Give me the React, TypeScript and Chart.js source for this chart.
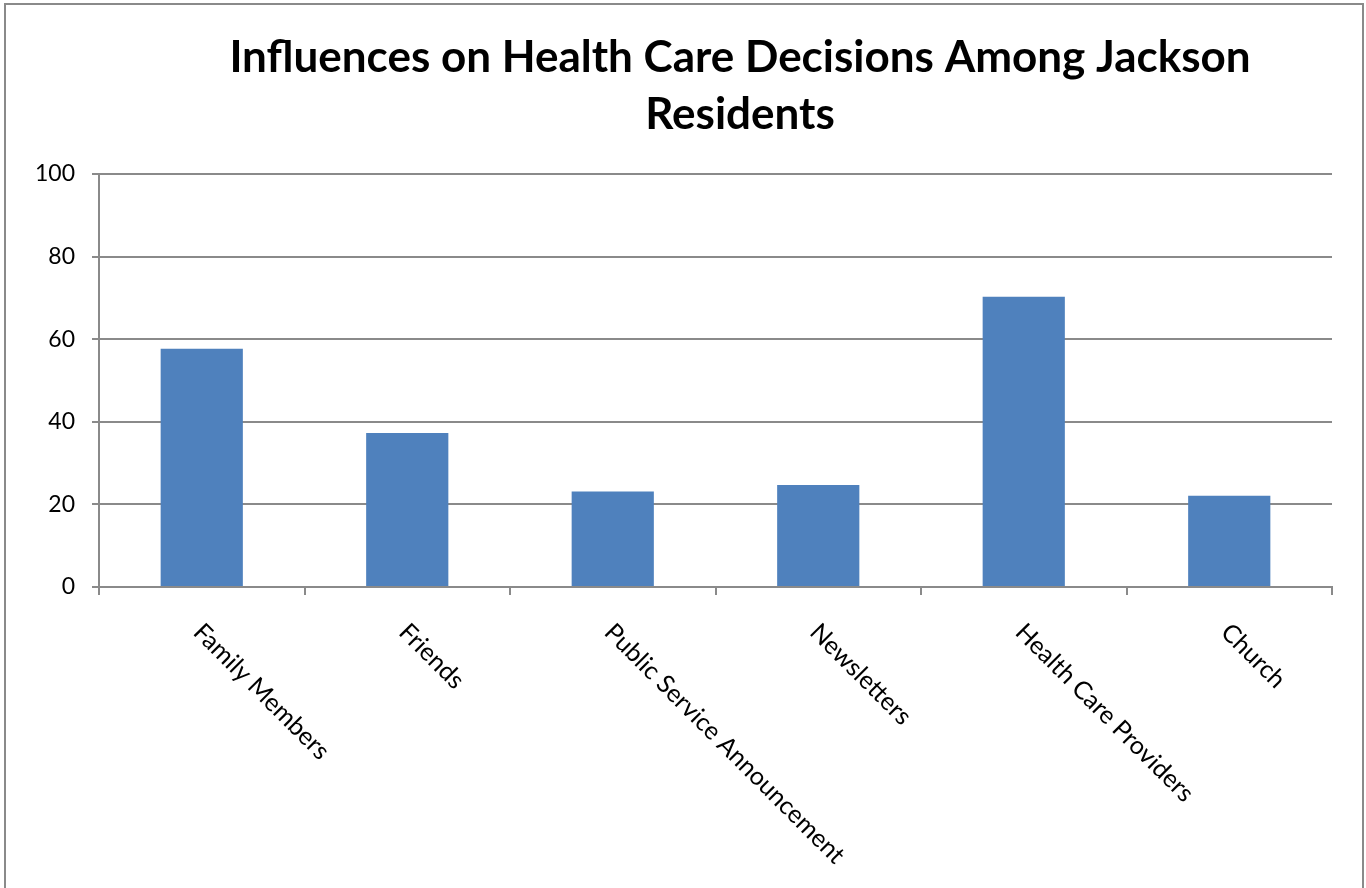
import React, { useEffect, useRef } from "react";
import { Chart, registerables } from "chart.js";

Chart.register(...registerables);

const categories = [
  "Family Members",
  "Friends",
  "Public Service Announcement",
  "Newsletters",
  "Health Care Providers",
  "Church",
];
const values = [57.7, 37.3, 23.1, 24.7, 70.3, 22.1];
const yTickValues = [0, 20, 40, 60, 80, 100];
const titleLines = ["Influences on Health Care Decisions Among Jackson", "Residents"];

const GRAY = "#8a8a8a";
const BAR = "#4f81bd";

export default function App() {
  const ref = useRef<HTMLCanvasElement | null>(null);

  useEffect(() => {
    const canvas = ref.current;
    if (!canvas) return;

    const framePlugin = {
      id: "frame",
      beforeDraw(chart: any) {
        const ctx = chart.ctx;
        ctx.save();
        ctx.fillStyle = "#ffffff";
        ctx.fillRect(0, 0, chart.width, chart.height);
        ctx.strokeStyle = GRAY;
        ctx.lineWidth = 2;
        ctx.strokeRect(5, 4, 1358, 900);
        ctx.restore();
      },
    };

    const titlePlugin = {
      id: "customTitle",
      afterDraw(chart: any) {
        const ctx = chart.ctx;
        ctx.save();
        ctx.fillStyle = "#000000";
        ctx.font = "bold 44px Lato";
        ctx.textAlign = "center";
        ctx.textBaseline = "alphabetic";
        ctx.fillText(titleLines[0], 740, 72);
        ctx.fillText(titleLines[1], 740, 129);
        ctx.restore();
      },
    };

    const catLabelPlugin = {
      id: "catLabels",
      afterDraw(chart: any) {
        const ctx = chart.ctx;
        const xs = chart.scales.x;
        const bottom = chart.chartArea.bottom;
        ctx.save();
        ctx.fillStyle = "#000000";
        ctx.font = "25px Lato";
        ctx.textAlign = "left";
        ctx.textBaseline = "middle";
        categories.forEach((label, i) => {
          const cx = xs.getPixelForValue(i);
          ctx.save();
          ctx.translate(cx - 4, bottom + 41);
          ctx.rotate(Math.PI / 4);
          ctx.fillText(label, 0, 0);
          ctx.restore();
        });
        ctx.restore();
      },
    };

    const chart = new Chart(canvas, {
      type: "bar",
      data: {
        labels: categories,
        datasets: [
          {
            data: values,
            backgroundColor: BAR,
            borderWidth: 0,
            barPercentage: 0.4,
            categoryPercentage: 1,
          },
        ],
      },
      options: {
        responsive: false,
        animation: false,
        events: [],
        layout: { padding: { top: 174, right: 34, bottom: 0, left: 0 } },
        plugins: {
          legend: { display: false },
          title: { display: false },
          tooltip: { enabled: false },
        },
        scales: {
          x: {
            type: "category",
            ticks: { display: false },
            grid: {
              display: true,
              drawOnChartArea: false,
              drawTicks: true,
              tickLength: 8,
              color: GRAY,
              lineWidth: 2,
              offset: true,
            },
            border: { display: true, color: GRAY, width: 2 },
            afterFit(scale: any) {
              scale.height = 301;
            },
          },
          y: {
            min: 0,
            max: 100,
            afterBuildTicks(scale: any) {
              scale.ticks = yTickValues.map((v) => ({ value: v }));
            },
            ticks: {
              color: "#000000",
              font: { family: "Lato", size: 23 },
              padding: 17,
            },
            grid: {
              color: GRAY,
              lineWidth: 2,
              tickLength: 7,
              drawTicks: true,
            },
            border: { display: true, color: GRAY, width: 2 },
            afterFit(scale: any) {
              scale.width = 99;
            },
          },
        },
      },
      plugins: [framePlugin, titlePlugin, catLabelPlugin],
    });

    return () => chart.destroy();
  }, []);

  return (
    <div style={{ position: "absolute", left: 0, top: 0, width: 1366, height: 888 }}>
      <canvas ref={ref} width={1366} height={888} />
    </div>
  );
}
